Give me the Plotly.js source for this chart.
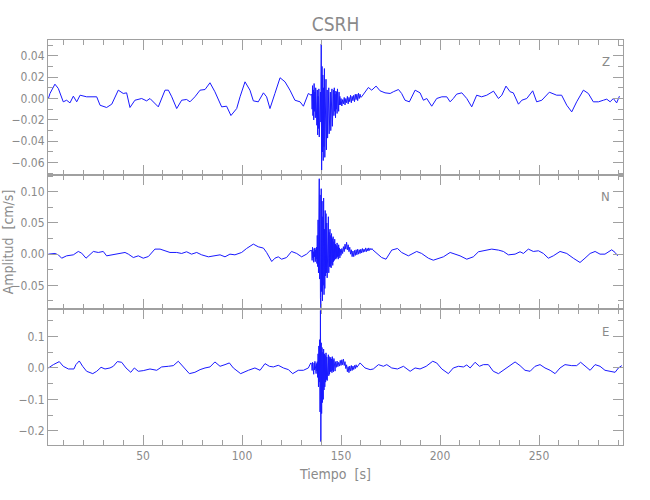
<!DOCTYPE html>
<html>
<head>
<meta charset="utf-8">
<script src="https://cdn.plot.ly/plotly-3.0.1.min.js"></script>
<style>html,body{margin:0;padding:0;background:#fff;}</style>
</head>
<body>
<div id="chart" style="width:650px;height:500px;"></div>
<script>
// ---- Z component ----
const zPreT = [2.2,3.0,5.5,7.2,9.7,11.4,13.1,14.8,16.5,18.2,21.5,24.9,26.6,28.3,31.6,34.2,37.5,40.0,41.7,43.4,45.9,49.3,51.8,53.5,57.7,61.1,62.8,64.5,67.0,69.5,72.0,73.7,76.2,78.8,81.3,83.8,86.3,89.7,92.2,94.4,97.3,99.0,101.5,104.0,105.7,108.2,110.8,112.4,114.1,116.6,119.2,121.7,124.2,126.7,129.3,131.0,133.5,134.9];
const zPreV = [0,0.0047,0.0134,0.0094,-0.0031,-0.0016,-0.0041,0.0022,-0.0031,0.0031,0.0016,0.0016,0.0016,-0.0063,-0.0084,-0.0053,0.0078,0.0047,0.0053,-0.0084,-0.0016,0,-0.0022,0,-0.0078,0.0078,0.0078,0.0016,-0.0094,-0.0016,-0.0009,-0.0031,0.0016,0.0078,0.0084,0.0147,0.0063,-0.0078,-0.0072,-0.0159,-0.0094,0.0016,0.0156,0.0078,-0.0022,-0.0031,0.0053,0.0016,-0.0094,0.0047,0.0194,0.0156,0.0078,-0.0016,-0.0031,-0.0072,0.0047,0.0031];
const zBurstT0 = 135.2, zBurstDt = 0.2;
const zBurstV = [0.004,-0.010,0.012,-0.016,0.008,-0.020,0.014,-0.012,0.006,-0.018,0.010,-0.015,0.003,
  -0.025,0.008,-0.034,0.002,-0.028,0.009,-0.036,-0.004,-0.030,0.006,-0.022,
  0.051,-0.067,0.030,
  -0.050,0.022,-0.058,0.010,-0.045,0.028,-0.055,0.005,-0.040,0.018,-0.048,
  -0.030,0.008,-0.037,-0.002,-0.028,0.010,-0.033,0.000,-0.025,0.006,-0.030,-0.005,-0.022,0.009,-0.026,-0.002,-0.018,
  0.008,-0.016,0.010,-0.012,0.004,-0.018,0.007,-0.010,0.006,-0.014,0.009,-0.008,0.003,-0.012,0.006,-0.006,0.002];
const zCodaT0 = 149.6, zCodaDt = 0.4;
const zCodaV = [-0.006,0.000,-0.007,-0.001,-0.005,0.001,-0.006,0.000,-0.004,0.002,-0.005,0.001,-0.003,0.003,-0.004,0.002,-0.002,0.003,-0.003,0.004,-0.001,0.004,-0.002,0.005,0.000,0.004,0.001];
const zPostT = [160.4,163.8,165.5,167.7,169.7,172.2,174.8,176.4,179.0,180.6,182.3,184.5,187.4,189.9,191.6,193.3,195.8,198.3,200.9,203.4,205.1,206.7,208.4,211.0,213.5,216.0,218.5,221.0,223.6,227.0,229.5,231.2,233.3,235.4,237.0,239.6,241.3,243.8,246.8,248.8,251.4,255.2,257.2,258.9,261.4,264.0,266.5,269.0,272.4,274.9,277.4,280.0,282.5,284.2,285.9,287.5,289.2,290.6];
const zPostV = [0.0016,0.0103,0.0078,0.0116,0.0072,0.0053,0.0047,0.0063,0.0084,0.0047,-0.0016,-0.0031,0.0078,0.0053,-0.0016,0,-0.0072,0,0.0016,0.0016,-0.0031,0,0.0041,0.0053,0,-0.0078,0.0031,0.0016,0.0031,0.0069,0,0.0031,0.0116,0.0063,0.0053,-0.0053,-0.0016,0,0.0072,-0.0031,-0.0016,0.0059,0.0041,0.0031,0.0031,-0.0063,-0.0125,-0.0031,0.0078,0.0047,-0.0031,-0.0031,-0.0016,-0.0006,-0.0031,0,-0.0041,0.0022];

// ---- N component ----
const nPreT = [2.2,3.0,5.5,7.2,8.9,11.4,14.8,17.3,19.0,21.2,23.2,24.9,27.4,29.9,31.6,34.2,37.5,40.9,42.6,45.1,47.6,50.1,52.7,56.0,58.6,61.1,63.6,67.0,69.5,72.0,74.5,77.1,79.6,83.0,85.5,88.9,91.4,93.9,96.4,99.8,102.3,105.7,108.2,110.8,112.4,115.0,116.6,118.3,120.0,122.5,125.0,127.6,130.1,132.6,134.3];
const nPreV = [0,0,0.0011,-0.0011,-0.0065,-0.0027,-0.0011,0.0043,0.0016,-0.0065,0,0.0043,0.0027,0.0043,-0.0027,-0.0011,0,0.0027,0,-0.0054,-0.0027,-0.0065,-0.0038,0.0081,0.0081,0.0054,0.0027,0.0027,0.0011,0.0038,0,0.0027,-0.0011,-0.0043,-0.0027,-0.0011,-0.0043,0,-0.0011,0.0027,0.0091,0.0161,0.0118,0.0097,0.0027,-0.0118,-0.0065,-0.0043,-0.0081,-0.0054,0.0043,0.0011,-0.0043,0,0.0054];
const nBurstT0 = 135.2, nBurstDt = 0.2;
const nBurstV = [0.006,-0.010,0.011,-0.006,0.004,-0.013,0.009,-0.004,0.010,-0.012,0.007,-0.008,0.011,
  -0.015,0.030,-0.020,0.055,-0.030,0.080,
  0.121,-0.040,0.095,-0.070,-0.086,0.105,
  -0.060,0.085,-0.075,0.060,-0.050,0.090,-0.065,0.040,-0.055,0.070,
  -0.035,0.065,-0.030,0.050,-0.038,0.045,-0.025,0.060,-0.030,0.035,-0.020,0.040,
  -0.020,0.030,-0.022,0.033,-0.015,0.025,-0.018,0.028,-0.012,0.020,-0.010,0.024,-0.008,
  0.016,-0.008,0.014,-0.006,0.018,-0.004,0.012,-0.008,0.015,-0.003,0.010,-0.006];
const nCodaT0 = 149.6, nCodaDt = 0.4;
const nCodaV = [0.008,-0.002,0.009,0.001,0.012,0.004,0.016,0.008,0.019,0.007,0.015,0.004,0.011,0.000,0.007,-0.004,0.005,-0.004,0.006,-0.002,0.007,-0.001,0.008,0.000,0.007,0.001,0.008,0.002,0.009,0.003,0.008,0.004,0.010,0.004,0.009,0.005,0.010,0.006,0.009,0.007,0.009,0.007];
const nPostT = [168.0,170.5,172.7,175.6,178.5,180.6,184.0,188.2,190.7,194.1,196.6,199.2,201.7,205.1,207.6,210.1,213.5,216.8,219.4,222.7,226.1,229.5,232.0,234.5,237.9,240.4,242.1,244.6,247.1,249.7,252.2,254.7,257.2,260.6,264.0,267.3,270.7,273.2,275.8,278.3,280.8,283.3,286.7,288.4,289.7];
const nPostV = [0.0011,-0.0054,-0.0081,0.0065,0.0091,0.0027,-0.0027,0.0043,0.0011,-0.0065,-0.0097,-0.0065,-0.0043,0.0027,0,-0.0027,-0.0081,-0.0043,0.0038,0.0054,0.0081,0.0065,0.0043,-0.0011,0,0.0038,0.0011,0.0081,0.0043,0.0054,0.0011,-0.0065,-0.0027,0.0043,0.0011,-0.0065,-0.0134,-0.0065,0.0011,0.0043,0,0,0.0070,0.0027,-0.0027];

// ---- E component ----
const ePreT = [2.2,4.7,7.7,9.7,12.3,15.1,16.1,17.8,19.5,21.5,24.6,26.6,28.8,30.8,33.3,35.0,37.0,39.2,41.4,43.8,45.6,47.6,50.1,53.5,56.9,59.4,62.8,65.3,67.8,70.0,73.4,76.2,78.8,81.3,83.8,86.3,88.9,91.4,93.6,95.6,99.3,103.2,106.5,109.1,111.6,113.8,115.8,118.3,120.9,123.4,125.6,128.4,131.0,133.5,134.7];
const ePreV = [0,0.0106,0.0202,0.0053,-0.0032,-0.0032,0.0106,0.0223,0.0053,-0.0106,-0.0181,-0.0106,0.0021,-0.0032,0,0.0053,0.0202,0.0181,0,-0.0138,0,-0.0106,-0.0085,-0.0032,-0.0074,0.0032,0.0053,0.0074,0.0213,0.0053,-0.0181,-0.0138,-0.0053,0,0.0032,0.0191,0.0053,0.0106,0.0160,0,-0.0181,-0.0074,0,-0.0074,0.0138,0.0053,0.0032,0.0085,0,-0.0053,-0.0181,-0.0074,-0.0074,0,0.0160];
const eBurstT0 = 135.2, eBurstDt = 0.2;
const eBurstV = [0.012,-0.008,0.018,-0.015,0.010,-0.020,0.016,-0.006,0.021,-0.012,0.008,-0.018,0.014,-0.010,0.020,
  -0.030,0.045,-0.060,0.070,-0.045,0.090,
  -0.140,0.183,-0.234,0.080,
  -0.145,0.065,-0.110,0.050,-0.100,0.060,-0.070,
  0.045,-0.060,0.040,-0.045,0.048,-0.037,0.035,-0.040,0.030,-0.030,0.042,-0.025,0.036,-0.020,0.030,
  -0.012,0.034,-0.010,0.028,-0.015,0.036,-0.008,0.025,-0.012,0.030,-0.005,0.022,-0.010];
const eCodaT0 = 147.2, eCodaDt = 0.4;
const eCodaV = [0.020,0.002,0.022,0.004,0.018,0.006,0.024,0.008,0.026,0.010,0.028,0.008,0.020,-0.002,0.010,-0.012,0.004,-0.015,0.006,-0.010,0.008,-0.008,0.006,-0.005,0.008,-0.002,0.010,0.002];
const ePostT = [159.6,162.1,164.7,166.3,168.9,171.4,173.1,175.6,178.5,181.5,184.9,187.4,189.9,193.0,196.3,198.3,200.9,204.2,206.7,209.3,211.8,213.5,215.2,217.7,219.9,221.9,224.4,226.9,229.5,232.0,234.5,237.9,240.4,242.9,245.5,248.0,250.5,253.0,255.6,258.1,260.6,263.1,266.5,269.0,271.0,273.2,275.8,278.3,280.8,283.3,285.9,288.4,290.1,291.8];
const ePostV = [0.0160,0,-0.0053,-0.0032,0.0106,0.0053,0.0106,0,-0.0032,0.0053,-0.0106,0,-0.0032,0.0053,0.0213,0.0160,-0.0032,-0.0181,0,0.0053,0.0032,0.0096,0,0.0181,0.0053,0.0106,0.0106,-0.0106,-0.0181,-0.0074,0.0032,0.0191,0.0074,-0.0074,-0.0106,0.0053,0.0106,0,-0.0074,-0.0181,0,0.0106,0.0074,0.0074,0.0181,0.0053,-0.0074,0.0106,0.0053,-0.0074,-0.0106,-0.0138,0,0.0074];

const components = ['Z','N','E'];
const xRange = [2, 292.4];

function series(preT, preV, bT0, bDt, bV, cT0, cDt, cV, postT, postV) {
  const t = [...preT], v = [...preV];
  bV.forEach((val, i) => { t.push(+(bT0 + i * bDt).toFixed(2)); v.push(val); });
  cV.forEach((val, i) => { t.push(+(cT0 + i * cDt).toFixed(2)); v.push(val); });
  postT.forEach((tt, i) => { t.push(tt); v.push(postV[i]); });
  return {t, v};
}
const Z = series(zPreT, zPreV, zBurstT0, zBurstDt, zBurstV, zCodaT0, zCodaDt, zCodaV, zPostT, zPostV);
const N = series(nPreT, nPreV, nBurstT0, nBurstDt, nBurstV, nCodaT0, nCodaDt, nCodaV, nPostT, nPostV);
const E = series(ePreT, ePreV, eBurstT0, eBurstDt, eBurstV, eCodaT0, eCodaDt, eCodaV, ePostT, ePostV);

const lineStyle = {color: 'rgb(25,25,255)', width: 1};
const traces = [
  {x: Z.t, y: Z.v, xaxis: 'x3', yaxis: 'y3', mode: 'lines', line: lineStyle, name: 'Z', hoverinfo: 'x+y'},
  {x: N.t, y: N.v, xaxis: 'x2', yaxis: 'y2', mode: 'lines', line: lineStyle, name: 'N', hoverinfo: 'x+y'},
  {x: E.t, y: E.v, xaxis: 'x', yaxis: 'y', mode: 'lines', line: lineStyle, name: 'E', hoverinfo: 'x+y'}
];

const FONT = 'Liberation Sans Narrow, DejaVu Sans Condensed, Arial Narrow, sans-serif';
const GRAY = '#8a8a8a';
const AX = '#a0a0a0';

function xAxis(anchor, labels) {
  return {
    anchor: anchor, domain: [0, 1], range: xRange, showgrid: false, zeroline: false,
    showline: true, linecolor: AX, linewidth: 1, mirror: 'ticks',
    ticks: 'inside', ticklen: 10, tickcolor: AX, tick0: 0, dtick: 50,
    minor: {dtick: 10, tick0: 0, ticks: 'inside', ticklen: 5, tickcolor: AX},
    showticklabels: labels, tickfont: {family: FONT, size: 12, color: GRAY}
  };
}
function yAxis(anchor, domain, range, dtick, minorDtick, fmt) {
  return {
    anchor: anchor, domain: domain, range: range, showgrid: false, zeroline: false,
    showline: true, linecolor: AX, linewidth: 1, mirror: 'ticks',
    ticks: 'inside', ticklen: 10, tickcolor: AX, tick0: 0, dtick: dtick,
    minor: {dtick: minorDtick, tick0: 0, ticks: 'inside', ticklen: 5, tickcolor: AX},
    tickformat: fmt, tickfont: {family: FONT, size: 12, color: GRAY}
  };
}

const layout = {
  width: 650, height: 500,
  margin: {l: 48, r: 27, t: 40, b: 55},
  paper_bgcolor: '#ffffff', plot_bgcolor: '#ffffff',
  showlegend: false,
  font: {family: FONT, color: GRAY},
  title: {text: 'CSRH', x: 0.5, xref: 'paper', y: 0.952, yref: 'container', yanchor: 'middle',
          font: {family: FONT, size: 19, color: GRAY}},
  xaxis: Object.assign(xAxis('y', true), {title: {text: 'Tiempo\u00a0 [s]', standoff: 6, font: {family: FONT, size: 14, color: GRAY}}}),
  xaxis2: xAxis('y2', false),
  xaxis3: xAxis('y3', false),
  yaxis: yAxis('x', [0, 0.3358], [-0.245, 0.1875], 0.1, 0.05, '.1f'),
  yaxis2: Object.assign(yAxis('x2', [0.3358, 0.6667], [-0.088, 0.127], 0.05, 0.025, '.2f'),
    {title: {text: 'Amplitud\u00a0 [cm/s]', standoff: 6, font: {family: FONT, size: 14, color: GRAY}}}),
  yaxis3: yAxis('x3', [0.6667, 1], [-0.0715, 0.0547], 0.02, 0.01, '.2f'),
  annotations: components.map((c, i) => ({
    text: c, xref: 'paper', yref: 'paper', x: 0.97, y: [0.946, 0.613, 0.28][i],
    xanchor: 'center', yanchor: 'middle', showarrow: false,
    font: {family: FONT, size: 13, color: GRAY}
  }))
};

Plotly.newPlot('chart', traces, layout, {displayModeBar: false, staticPlot: true});
</script>
</body>
</html>
